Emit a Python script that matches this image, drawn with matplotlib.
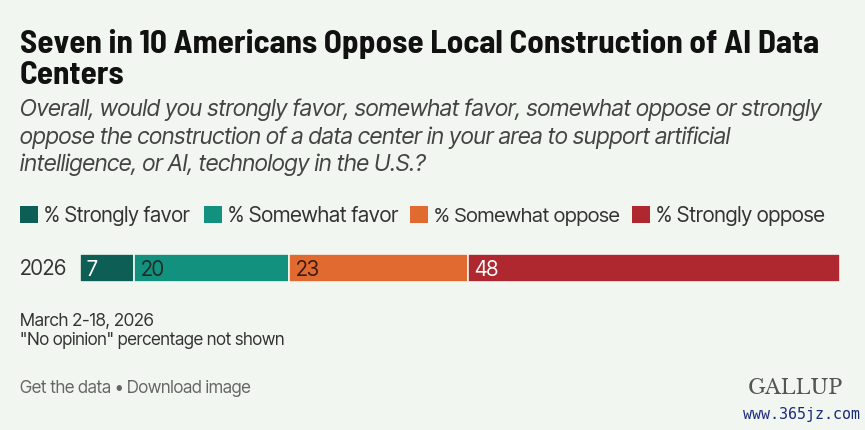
import matplotlib
matplotlib.use("Agg")
import matplotlib.pyplot as plt
from matplotlib.patches import Rectangle
from matplotlib import font_manager

categories = ["% Strongly favor", "% Somewhat favor", "% Somewhat oppose", "% Strongly oppose"]
values = [7, 20, 23, 48]
year_label = "2026"
colors = ["#0d5f56", "#12917f", "#e06a2f", "#b0282f"]
label_colors = ["#ffffff", "#1f2a28", "#3a1a10", "#ffffff"]

title_lines = ["Seven in 10 Americans Oppose Local Construction of AI Data", "Centers"]
subtitle_lines = [
    "Overall, would you strongly favor, somewhat favor, somewhat oppose or strongly",
    "oppose the construction of a data center in your area to support artificial",
    "intelligence, or AI, technology in the U.S.?",
]
notes = ["March 2-18, 2026", "\"No opinion\" percentage not shown"]
footer = "Get the data \u2022 Download image"

fl = font_manager.fontManager.ttflist
names = {f.name for f in fl}
bold_names = {f.name for f in fl if isinstance(f.weight, int) and f.weight >= 700
              or str(f.weight) in ("bold", "700", "800")}
def pick(cands, pool):
    for c in cands:
        if c in pool:
            return c
    return "DejaVu Sans"
COND = pick(["Inter Tight", "Barlow Semi Condensed", "Roboto Condensed", "Roboto"], names)
BOLD = pick(["Inter Tight", "Barlow Semi Condensed", "Roboto Condensed", "Roboto"], bold_names)
SERIF = pick(["Libre Baskerville", "Liberation Serif"], names)

W, H = 865, 431
BG = "#f2f6f1"
fig = plt.figure(figsize=(W / 100, H / 100), dpi=100, facecolor=BG)
renderer = fig.canvas.get_renderer()

def px(x, y):
    return x / W, 1 - y / H

def txt(x, y, s, target_w=None, size=12, va="baseline", ha="left", **kw):
    t = fig.text(*px(x, y), s, fontsize=size, va=va, ha=ha, **kw)
    if target_w:
        w = t.get_window_extent(renderer).width
        t.set_fontsize(size * target_w / w)
    return t

FAM = [COND, "DejaVu Sans"]

# Title
title_font = dict(family=[BOLD, "DejaVu Sans"], weight="bold", color="#111111")
t1 = txt(20, 53, title_lines[0], target_w=798, size=20, **title_font)
fs = t1.get_fontsize()
txt(20, 84, title_lines[1], size=fs, **title_font)

# Subtitle
sub_font = dict(family=FAM, style="italic", color="#444444")
s1 = txt(20, 116, subtitle_lines[0], target_w=803, size=15, **sub_font)
sfs = s1.get_fontsize()
txt(20, 144, subtitle_lines[1], size=sfs, **sub_font)
txt(20, 171, subtitle_lines[2], size=sfs, **sub_font)

# Legend
leg_font = dict(family=FAM, color="#333333")
sq_x = [20, 204, 410, 632]
txt_w = [144, 169, 185, 167]
for cat, c, sx, tw in zip(categories, colors, sq_x, txt_w):
    fig.patches.append(Rectangle(px(sx, 224), 18 / W, 17 / H, transform=fig.transFigure,
                                 facecolor=c, edgecolor="none"))
    txt(sx + 24, 222, cat, target_w=tw, size=14, **leg_font)

# Bar
ax = fig.add_axes([80 / W, 1 - 283 / H, 760 / W, 28 / H])
ax.set_facecolor(BG)
left = 0
for v, c, lc in zip(values, colors, label_colors):
    ax.barh(0, v, left=left, height=1.0, color=c, edgecolor=BG, linewidth=1.2)
    ax.text(left + 0.9, -0.03, str(v), color=lc, va="center", ha="left",
            fontsize=15, family=FAM)
    left += v
ax.set_xlim(0, sum(values))
ax.set_ylim(-0.5, 0.5)
ax.axis("off")
txt(20, 275, year_label, target_w=47, size=15, **leg_font)

# Notes
note_font = dict(family=FAM, color="#333333")
txt(20, 326, notes[0], target_w=133, size=12, **note_font)
txt(20, 345, notes[1], target_w=265, size=12, **note_font)
txt(20, 393, footer, target_w=231, size=12, family=FAM, color="#666666")
txt(843, 394, "GALLUP", target_w=95, size=13, ha="right", family=SERIF, color="#555555")
txt(860, 419, "www.365jz.com", target_w=117, size=10.5, ha="right", family="DejaVu Sans Mono", color="#1a2a7a")

fig.savefig("out.png", dpi=100, facecolor=BG)
